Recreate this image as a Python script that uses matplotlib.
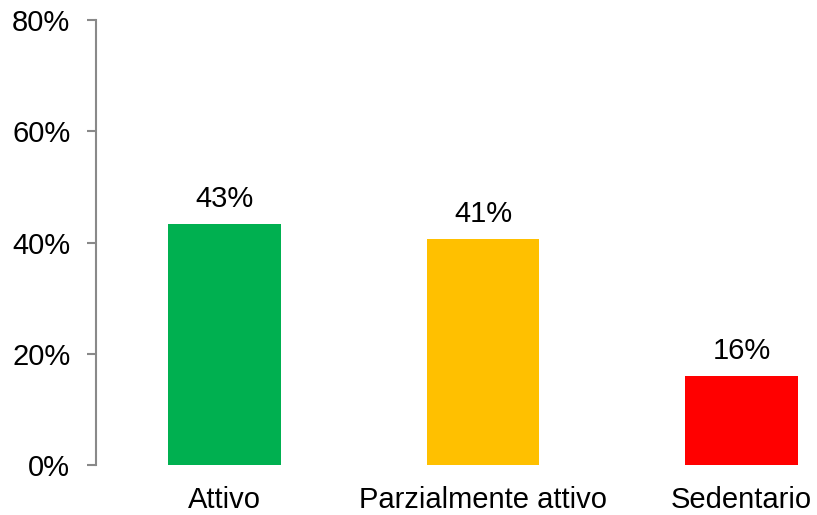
import matplotlib
matplotlib.use("Agg")
import matplotlib.pyplot as plt
from matplotlib.ticker import FuncFormatter

categories = ["Attivo", "Parzialmente attivo", "Sedentario"]
values = [43.3, 40.6, 16.0]
labels = ["43%", "41%", "16%"]
colors = ["#00B050", "#FFC000", "#FF0000"]
yticks = [0, 20, 40, 60, 80]

plt.rcParams["font.family"] = ["Liberation Sans", "DejaVu Sans"]

fig = plt.figure(figsize=(8.17, 5.15), dpi=100)
ax = fig.add_axes([96 / 817, (515 - 465.3) / 515, 721 / 817, (465.3 - 19.7) / 515])

x = list(range(len(categories)))
ax.bar(x, values, width=0.435, color=colors)

for xi, v, lab in zip(x, values, labels):
    ax.annotate(lab, (xi, v), xytext=(0, 12.2), textcoords="offset points",
                ha="center", va="baseline", fontsize=21, color="black")

ax.set_xlim(-0.497, 2.292)
ax.set_ylim(0, 80)
ax.set_yticks(yticks)
ax.yaxis.set_major_formatter(FuncFormatter(lambda v, p: f"{v:.0f}%"))
ax.set_xticks(x)
ax.set_xticklabels(categories)

for s in ["top", "right", "bottom"]:
    ax.spines[s].set_visible(False)
ax.spines["left"].set_color("#898989")
ax.spines["left"].set_linewidth(1.5)

ax.tick_params(axis="y", length=6.5, width=1.5, color="#898989", pad=12,
               labelsize=21, labelcolor="black")
ax.tick_params(axis="x", length=0, pad=15, labelsize=21, labelcolor="black")

fig.savefig("out.png", dpi=100)
